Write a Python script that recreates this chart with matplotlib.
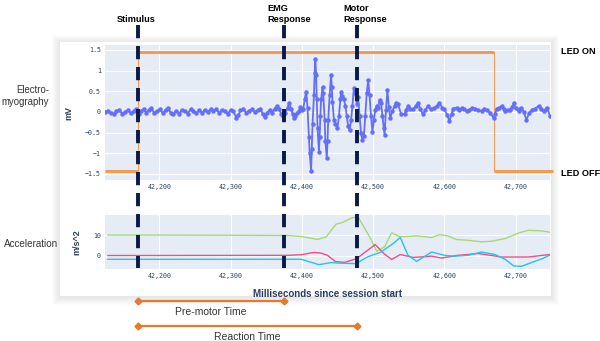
import matplotlib
matplotlib.use("Agg")
import matplotlib.pyplot as plt
from matplotlib import transforms
from matplotlib.lines import Line2D
from matplotlib.patches import Rectangle
from matplotlib.ticker import FuncFormatter

# --- donnees ---
event_names = ["Stimulus", "EMG\nResponse", "Motor\nResponse"]
event_times = [42170, 42375, 42478]

led_times = [42124, 42170, 42670, 42752]
led_levels = [-1.44, 1.44, -1.44]
led_labels = ["LED ON", "LED OFF"]

emg_t = [42124, 42128, 42132, 42136, 42140, 42144, 42148, 42152, 42156, 42160,
         42164, 42167, 42171, 42174, 42178, 42182, 42186, 42189, 42193, 42197,
         42201, 42205, 42209, 42213, 42216, 42220, 42224, 42228, 42232, 42236,
         42240, 42244, 42248, 42252, 42256, 42260, 42264, 42268, 42272, 42276,
         42280, 42284, 42288, 42292, 42296, 42300, 42304, 42308, 42311, 42314,
         42318, 42322, 42326, 42330, 42334, 42338, 42342, 42345, 42348, 42351,
         42355, 42358, 42362, 42365, 42368, 42371, 42374, 42377, 42380, 42382,
         42385, 42387, 42389, 42391, 42393, 42396, 42398, 42400, 42402, 42404,
         42406, 42408, 42410, 42411, 42413, 42414, 42415, 42417, 42418, 42419,
         42420, 42421, 42422, 42424, 42425, 42426, 42427, 42429, 42430, 42432,
         42433, 42435, 42436, 42437, 42439, 42441, 42442, 42443, 42445, 42447,
         42450, 42452, 42454, 42455, 42457, 42459, 42461, 42463, 42465, 42467,
         42469, 42471, 42473, 42475, 42477, 42479, 42481, 42483, 42485, 42487,
         42489, 42491, 42493, 42495, 42497, 42499, 42501, 42503, 42505, 42507,
         42509, 42511, 42513, 42515, 42516, 42518, 42520, 42522, 42524, 42527,
         42530, 42532, 42535, 42539, 42544, 42546, 42549, 42552, 42556, 42560,
         42563, 42566, 42570, 42573, 42577, 42581, 42586, 42590, 42593, 42597,
         42600, 42604, 42607, 42610, 42612, 42617, 42621, 42624, 42628, 42631,
         42635, 42639, 42643, 42647, 42652, 42656, 42659, 42664, 42669, 42671,
         42673, 42677, 42680, 42683, 42685, 42689, 42692, 42695, 42697, 42700,
         42704, 42706, 42708, 42711, 42715, 42719, 42723, 42727, 42732, 42735,
         42739, 42742, 42744, 42748]
emg_v = [0.00, 0.03, -0.03, -0.05, 0.02, 0.04, -0.04, 0.00, 0.04, -0.03,
         0.02, 0.06, -0.05, 0.02, 0.07, -0.02, 0.05, 0.09, -0.03, 0.02,
         0.06, -0.03, 0.05, 0.10, -0.02, -0.05, 0.03, -0.04, 0.05, 0.02,
         -0.04, 0.06, 0.01, -0.03, 0.04, -0.02, 0.05, 0.00, 0.06, 0.02,
         0.07, -0.02, 0.04, 0.01, -0.05, 0.04, 0.02, -0.14, -0.08, 0.04,
         0.07, -0.02, 0.03, 0.06, -0.01, 0.04, 0.08, -0.05, -0.13, -0.02,
         0.05, -0.02, 0.08, 0.15, 0.06, -0.04, -0.09, -0.02, 0.10, 0.21,
         0.08, -0.05, -0.15, -0.10, -0.03, 0.02, 0.12, 0.04, 0.08, 0.30,
         0.49, 0.10, -0.60, -1.00, -1.42, -0.90, -0.30, 0.40, 0.95, 1.28,
         0.90, 0.30, -0.40, -0.96, -0.60, -0.10, 0.30, 0.60, 0.45, -0.20,
         -0.70, -1.12, -0.70, -0.20, 0.40, 0.90, 0.60, 0.25, -0.20, -0.30,
         -0.40, -0.10, 0.30, 0.49, 0.38, 0.30, 0.15, -0.10, -0.35, -0.45,
         -0.20, 0.15, 0.57, 0.45, 0.20, 0.35, -0.10, -0.52, -0.68, -0.58,
         -0.10, 0.45, 0.77, 0.40, -0.10, -0.48, -0.20, 0.05, 0.15, 0.10,
         0.29, 0.22, -0.10, -0.40, -0.56, 0.05, 0.53, 0.12, -0.15, 0.02,
         0.15, 0.21, 0.18, -0.04, -0.06, 0.05, 0.14, 0.08, 0.06, 0.15,
         0.22, 0.08, -0.06, 0.05, 0.14, 0.06, 0.10, 0.15, 0.22, 0.10,
         0.06, -0.08, -0.23, -0.05, 0.08, 0.10, 0.05, 0.10, 0.06, 0.02,
         0.05, 0.10, 0.08, 0.04, 0.02, 0.08, 0.05, -0.02, -0.15, -0.05,
         0.08, 0.10, 0.14, 0.06, 0.02, 0.04, 0.05, 0.12, 0.22, 0.10,
         0.02, 0.06, 0.10, 0.00, -0.19, -0.02, 0.05, 0.08, 0.14, 0.08,
         0.02, 0.06, 0.10, -0.10]

acc_green_t = [42128, 42200, 42300, 42380, 42399, 42422, 42434, 42448, 42457, 42471,
               42479, 42497, 42505, 42516, 42526, 42538, 42561, 42582, 42593, 42605,
               42617, 42633, 42652, 42666, 42685, 42704, 42718, 42737, 42750]
acc_green_v = [10.0, 10.0, 9.9, 9.8, 9.3, 7.9, 9.1, 15.3, 16.1, 18.4,
               18.7, 7.9, 2.2, 4.3, 11.1, 9.1, 9.6, 8.8, 10.2, 9.6,
               7.8, 7.5, 6.7, 7.0, 8.3, 11.0, 12.3, 12.0, 11.2]

acc_pink_t = [42128, 42380, 42399, 42417, 42427, 42436, 42447, 42460, 42477, 42489,
              42503, 42515, 42526, 42538, 42556, 42582, 42596, 42619, 42647, 42680,
              42718, 42750]
acc_pink_v = [0.1, 0.2, 0.5, 1.6, 1.3, 0.2, -2.8, -3.2, -1.4, 1.8,
              5.4, 1.1, -1.8, 0.6, -0.8, -0.2, -1.1, 0.2, 1.1, -0.6,
              -0.6, 0.7]

acc_cyan_t = [42128, 42399, 42424, 42441, 42455, 42476, 42492, 42511, 42528, 42538,
              42549, 42561, 42582, 42600, 42614, 42633, 42652, 42671, 42685, 42697,
              42708, 42722, 42737, 42750]
acc_cyan_v = [-1.7, -1.7, -4.3, -3.3, -3.6, -3.8, -0.6, 1.8, 5.9, 8.8,
              0.2, -2.7, 1.8, 0.2, -0.2, 0.2, 1.8, 0.6, -1.7, -4.9,
              -5.1, -3.3, -1.4, 0.7]

# intervalles en bas : (debut, fin, texte)
spans = [(0, 1, "Pre-motor Time"), (0, 2, "Reaction Time")]

W, H = 600, 341
def fx(x):  # pixel -> fraction figure
    return x / W
def fy(y):
    return 1 - y / H

BG = "#E5ECF6"
TXT = "#2a3f5f"
NAVY = "#0b1a46"
ORANGE = "#e8782c"
SANS = "Liberation Sans"
MONO = "DejaVu Sans Mono"

fig = plt.figure(figsize=(6, 3.41), dpi=100)
fig.patch.set_facecolor("white")

# carte blanche avec ombre
for i in range(8, 0, -1):
    fig.add_artist(Rectangle((fx(60 - i), fy(296 + i + 1)), fx(491 + 2 * i), (296 - 42 + 2 * i) / H,
                             transform=fig.transFigure, facecolor="black", alpha=0.012,
                             edgecolor="none", zorder=-3))
fig.add_artist(Rectangle((fx(60), fy(296)), fx(491), (296 - 42) / H, transform=fig.transFigure,
                         facecolor="white", edgecolor="none", zorder=-2))

ax1 = fig.add_axes([fx(105), fy(180), fx(445), (180 - 45) / H])
ax2 = fig.add_axes([fx(105), fy(269), fx(445), (269 - 215) / H])

xfmt = FuncFormatter(lambda v, _: f"{v:,.0f}")
yfmt = FuncFormatter(lambda v, _: f"{v:g}".replace("-", "\u2212"))

for ax in (ax1, ax2):
    ax.set_facecolor(BG)
    for s in ax.spines.values():
        s.set_visible(False)
    ax.set_xlim(42124, 42748)
    ax.set_xticks([42200, 42300, 42400, 42500, 42600, 42700])
    ax.xaxis.set_major_formatter(xfmt)
    ax.yaxis.set_major_formatter(yfmt)
    ax.grid(True, color="white", lw=0.8)
    ax.set_axisbelow(True)
    ax.tick_params(length=0, labelsize=4.8, labelcolor=TXT, labelfontfamily=MONO, pad=3)

# EMG
ax1.set_ylim(-1.65, 1.62)
ax1.set_yticks([-1.5, -1, -0.5, 0, 0.5, 1, 1.5])
led_col = "#F59A55"
for i, lvl in enumerate(led_levels):
    ax1.hlines(lvl, led_times[i], led_times[i + 1], color=led_col, lw=2.2, zorder=2, clip_on=False)
ax1.vlines(led_times[1:-1], -1.44, 1.44, color=led_col, lw=0.8, zorder=2)
ax1.plot(emg_t, emg_v, color="#636EFA", lw=1.3, marker="o", ms=2.2, zorder=3)
ax1.set_ylabel("mV", fontsize=6.5, fontweight="bold", color=TXT, family=SANS, labelpad=8)

# acceleration
ax2.set_ylim(-6.4, 19.7)
ax2.set_yticks([0, 10])
ax2.plot(acc_green_t, acc_green_v, color="#A9D86E", lw=1.0)
ax2.plot(acc_pink_t, acc_pink_v, color="#EC4F86", lw=1.0)
ax2.plot(acc_cyan_t, acc_cyan_v, color="#22C4EC", lw=1.0)
ax2.set_ylabel("m/s^2", fontsize=6.5, fontweight="bold", color=TXT, family=SANS, labelpad=8)
ax2.set_xlabel("Milliseconds since session start", fontsize=7, fontweight="bold",
               color=TXT, family=SANS, labelpad=7)

# lignes d'evenements
blend = transforms.blended_transform_factory(ax1.transData, fig.transFigure)
for t in event_times:
    fig.add_artist(Line2D([t, t], [fy(25), fy(268)], transform=blend, color=NAVY,
                          lw=2.8, linestyle=(0, (3.4, 2.0)), solid_capstyle="butt", zorder=5))

fig.text(fx(136), fy(19), event_names[0], ha="center", va="center", fontsize=6.6,
         fontweight="bold", family=SANS)
fig.text(fx(267), fy(14), event_names[1], ha="left", va="center", fontsize=6.6,
         fontweight="bold", family=SANS, linespacing=1.25)
fig.text(fx(343), fy(14), event_names[2], ha="left", va="center", fontsize=6.6,
         fontweight="bold", family=SANS, linespacing=1.25)

# textes de gauche et de droite
fig.text(fx(49), fy(96), "Electro-\nmyography", ha="right", va="center", fontsize=6.9,
         color="#333333", family=SANS, multialignment="right", linespacing=1.2)
fig.text(fx(58), fy(244), "Acceleration", ha="right", va="center", fontsize=7.1,
         color="#333333", family=SANS)
fig.text(fx(561), fy(52), led_labels[0], ha="left", va="center", fontsize=6.6,
         fontweight="bold", family=SANS)
fig.text(fx(561), fy(173), led_labels[1], ha="left", va="center", fontsize=6.6,
         fontweight="bold", family=SANS)

# fleches des durees
for (a, b, label), ypx in zip(spans, [301, 326]):
    t0, t1 = event_times[a], event_times[b]
    fig.add_artist(Line2D([t0, t1], [fy(ypx), fy(ypx)], transform=blend, color=ORANGE,
                          lw=1.6, marker="D", ms=3.5, zorder=5))
    mid = blend.transform(((t0 + t1) / 2, 0))[0]
    xfig = fig.transFigure.inverted().transform((mid, 0))[0]
    fig.text(xfig, fy(ypx + 11), label, ha="center", va="center", fontsize=7.5,
             color="#333333", family=SANS)

fig.savefig("out.png", dpi=100)
